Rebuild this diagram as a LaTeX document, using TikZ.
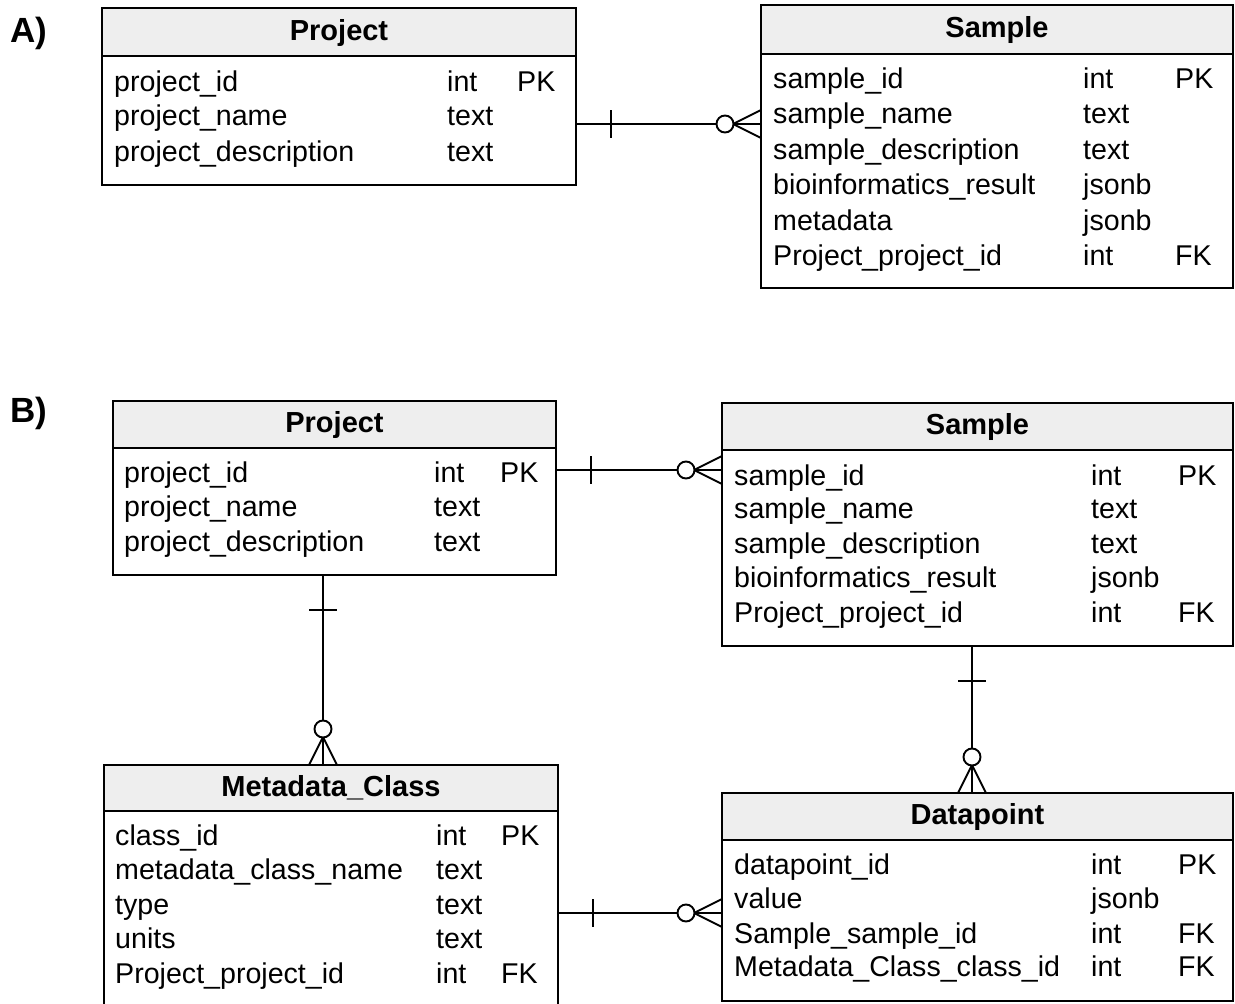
\documentclass[tikz,border=0pt]{standalone}
\usepackage{fontspec}
\setmainfont{Liberation Sans}
\usetikzlibrary{calc}
\definecolor{hdrgray}{HTML}{EEEEEE}
\tikzset{
  ln/.style={line width=1.9pt, black},
  hdr/.style={ln, draw, fill=hdrgray, rectangle, anchor=north west, inner sep=0pt, outer sep=0pt},
  bodybox/.style={ln, draw, fill=white, rectangle, anchor=north west, inner sep=0pt, outer sep=0pt},
  ttl/.style={font=\bfseries\fontsize{29}{31}\selectfont, anchor=base, inner sep=0pt},
  fld/.style={font=\fontsize{28.6}{31}\selectfont, anchor=base west, inner sep=0pt},
  lbl/.style={font=\bfseries\fontsize{35}{37}\selectfont, anchor=base west, inner sep=0pt},
}
% table: name, x, ytop, width, yheaderbottom, ybottom, title
\newcommand{\erTable}[7]{%
  \node[hdr, minimum width=#4pt, minimum height={#5pt-#3pt}] (#1h) at (#2,#3) {};
  \node[bodybox, minimum width=#4pt, minimum height={#6pt-#5pt}] (#1b) at (#2,#5) {};
  \node[ttl] (#1t) at ($(#1h.center)+(0,8)$) {#7};
}
% row: name, y, x1, name, x2, type, x3, key
\newcommand{\erRow}[8]{%
  \node[fld] (#1n) at (#3,#2+9.5) {#4};
  \node[fld] (#1y) at (#5,#2+9.5) {#6};
  \node[fld] (#1k) at (#7,#2+9.5) {#8};
}
\newcommand{\crowH}[2]{%
  \draw[ln] (#1) -- (#2);
  \draw[ln] ($(#1)+(35,-14)$) -- ($(#1)+(35,14)$);
  \draw[ln] ($(#2)+(-28,0)$) -- ($(#2)+(0,-14)$);
  \draw[ln] ($(#2)+(-28,0)$) -- ($(#2)+(0,14)$);
  \draw[ln, fill=white] ($(#2)+(-36,0)$) circle[radius=8.5pt];
}
\newcommand{\crowV}[2]{%
  \draw[ln] (#1) -- (#2);
  \draw[ln] ($(#1)+(-14,35)$) -- ($(#1)+(14,35)$);
  \draw[ln] ($(#2)+(0,-28)$) -- ($(#2)+(-14,0)$);
  \draw[ln] ($(#2)+(0,-28)$) -- ($(#2)+(14,0)$);
  \draw[ln, fill=white] ($(#2)+(0,-36)$) circle[radius=8.5pt];
}
\begin{document}
\begin{tikzpicture}[x=1pt, y=-1pt]
\useasboundingbox (0,0) rectangle (1235,1004);
\clip (0,0) rectangle (1235,1004);
\fill[white] (0,0) rectangle (1235,1004);

\node[lbl] (labA) at (10,42) {A)};
\node[lbl] (labB) at (10,422) {B)};

% ---------- A ----------
\erTable{pA}{102}{8}{474}{56}{185}{Project}
\erRow{pA1}{82}{114}{project\_id}{447}{int}{517}{PK}
\erRow{pA2}{116}{114}{project\_name}{447}{text}{517}{}
\erRow{pA3}{152}{114}{project\_description}{447}{text}{517}{}

\erTable{sA}{761}{5}{472}{54}{288}{Sample}
\erRow{sA1}{79}{773}{sample\_id}{1083}{int}{1175}{PK}
\erRow{sA2}{114}{773}{sample\_name}{1083}{text}{1175}{}
\erRow{sA3}{150}{773}{sample\_description}{1083}{text}{1175}{}
\erRow{sA4}{185}{773}{bioinformatics\_result}{1083}{jsonb}{1175}{}
\erRow{sA5}{221}{773}{metadata}{1083}{jsonb}{1175}{}
\erRow{sA6}{256}{773}{Project\_project\_id}{1083}{int}{1175}{FK}

\coordinate (cA1) at (pAb.east |- 0,124);
\coordinate (cA2) at (sAb.west |- 0,124);
\crowH{cA1}{cA2}

% ---------- B ----------
\erTable{pB}{113}{401}{443}{448}{575}{Project}
\erRow{pB1}{473}{124}{project\_id}{434}{int}{500}{PK}
\erRow{pB2}{507}{124}{project\_name}{434}{text}{500}{}
\erRow{pB3}{542}{124}{project\_description}{434}{text}{500}{}

\erTable{sB}{722}{403}{511}{450}{646}{Sample}
\erRow{sB1}{476}{734}{sample\_id}{1091}{int}{1178}{PK}
\erRow{sB2}{509}{734}{sample\_name}{1091}{text}{1178}{}
\erRow{sB3}{544}{734}{sample\_description}{1091}{text}{1178}{}
\erRow{sB4}{578}{734}{bioinformatics\_result}{1091}{jsonb}{1178}{}
\erRow{sB5}{613}{734}{Project\_project\_id}{1091}{int}{1178}{FK}

\erTable{mB}{104}{765}{454}{811}{1030}{Metadata\_Class}
\erRow{mB1}{836}{115}{class\_id}{436}{int}{501}{PK}
\erRow{mB2}{870}{115}{metadata\_class\_name}{436}{text}{501}{}
\erRow{mB3}{905}{115}{type}{436}{text}{501}{}
\erRow{mB4}{939}{115}{units}{436}{text}{501}{}
\erRow{mB5}{974}{115}{Project\_project\_id}{436}{int}{501}{FK}

\erTable{dB}{722}{793}{511}{840}{1001}{Datapoint}
\erRow{dB1}{865}{734}{datapoint\_id}{1091}{int}{1178}{PK}
\erRow{dB2}{899}{734}{value}{1091}{jsonb}{1178}{}
\erRow{dB3}{934}{734}{Sample\_sample\_id}{1091}{int}{1178}{FK}
\erRow{dB4}{967}{734}{Metadata\_Class\_class\_id}{1091}{int}{1178}{FK}

\coordinate (cB1) at (pBb.east |- 0,470);
\coordinate (cB2) at (sBb.west |- 0,470);
\crowH{cB1}{cB2}

\coordinate (cB3) at (mBb.east |- 0,913);
\coordinate (cB4) at (dBb.west |- 0,913);
\crowH{cB3}{cB4}

\coordinate (cB5) at (pBb.south -| 323,0);
\coordinate (cB6) at (mBh.north -| 323,0);
\crowV{cB5}{cB6}

\coordinate (cB7) at (sBb.south -| 972,0);
\coordinate (cB8) at (dBh.north -| 972,0);
\crowV{cB7}{cB8}
\end{tikzpicture}
\end{document}
